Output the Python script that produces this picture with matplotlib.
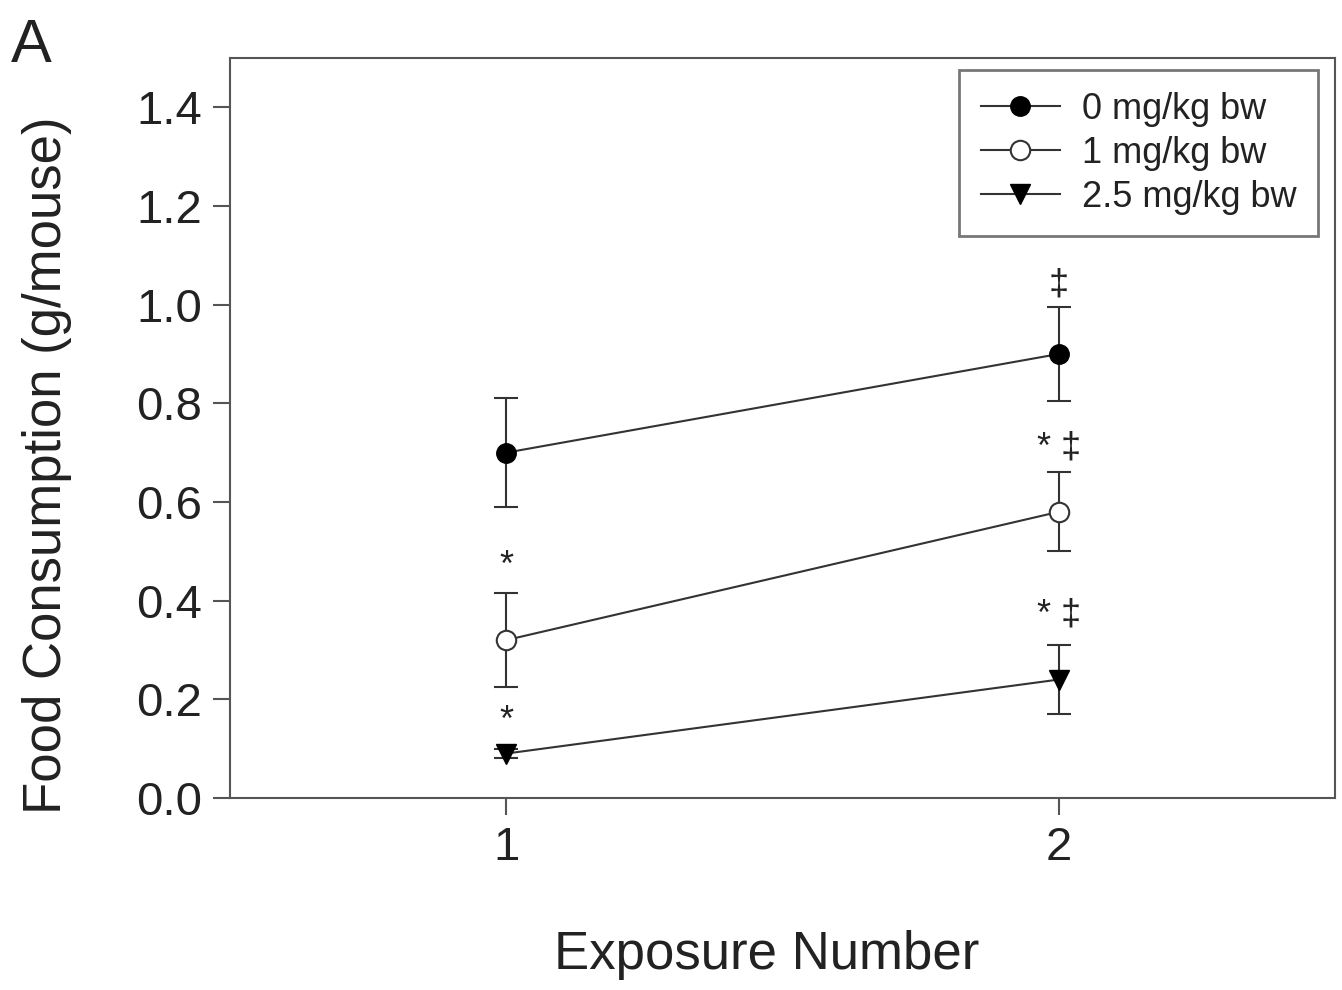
import matplotlib.pyplot as plt

plt.rcParams['font.family'] = ['Liberation Sans', 'DejaVu Sans']

exposure = [1, 2]
labels = ['0 mg/kg bw', '1 mg/kg bw', '2.5 mg/kg bw']
mean_0 = [0.70, 0.90]
err_0 = [0.11, 0.095]
mean_1 = [0.32, 0.58]
err_1 = [0.095, 0.08]
mean_25 = [0.09, 0.24]
err_25 = [0.01, 0.07]

# significance marks: (x, y, text)
marks = [(1, 0.47, '*'), (1, 0.155, '*'), (2, 1.04, '‡'),
         (2, 0.71, '* ‡'), (2, 0.37, '* ‡')]

fig = plt.figure(figsize=(13.42, 9.9), dpi=100)
ax = fig.add_axes([0.1714, 0.194, 0.8234, 0.7474])

col = '#333333'
ebkw = dict(fmt='none', ecolor=col, elinewidth=1.5, capsize=8.5, capthick=1.5)
ax.errorbar(exposure, mean_0, yerr=err_0, **ebkw)
ax.errorbar(exposure, mean_1, yerr=err_1, **ebkw)
ax.errorbar(exposure, mean_25, yerr=err_25, **ebkw)

ax.plot(exposure, mean_0, color=col, lw=1.5, marker='o', ms=14,
        mfc='black', mec='black', label=labels[0])
ax.plot(exposure, mean_1, color=col, lw=1.5, marker='o', ms=14,
        mfc='white', mec=col, mew=1.5, label=labels[1])
ax.plot(exposure, mean_25, color=col, lw=1.5, marker='v', ms=14,
        mfc='black', mec='black', label=labels[2])

for x, y, t in marks:
    ax.text(x, y, t, ha='center', va='center', fontsize=26, color='#222222')

ax.set_xlim(0.5, 2.5)
ax.set_ylim(0, 1.5)
ax.set_xticks([1, 2])
ax.set_yticks([0.0, 0.2, 0.4, 0.6, 0.8, 1.0, 1.2, 1.4])
ax.set_yticklabels(['0.0', '0.2', '0.4', '0.6', '0.8', '1.0', '1.2', '1.4'])
ax.tick_params(labelsize=34, length=12, width=1.5, color='#555555', pad=8, labelcolor='#222222')
for s in ax.spines.values():
    s.set_color('#555555')
    s.set_linewidth(1.5)

ax.set_xlabel('Exposure Number', fontsize=38, color='#222222', va='center')
ax.xaxis.set_label_coords(0.486, -0.212)
ax.set_ylabel('Food Consumption (g/mouse)', fontsize=38, color='#222222', va='center')
ax.yaxis.set_label_coords(-0.166, 0.449)

leg = ax.legend(loc='upper right', bbox_to_anchor=(0.9846, 0.984), borderaxespad=0,
                fontsize=26, frameon=True, fancybox=False, edgecolor='#555555',
                handlelength=2.2, borderpad=0.6, labelspacing=0.25, handletextpad=0.6,
                labelcolor='#222222')
leg.get_frame().set_linewidth(2)

fig.text(0.008, 0.937, 'A', fontsize=44, color='#222222')

fig.savefig('out.png', dpi=100)
